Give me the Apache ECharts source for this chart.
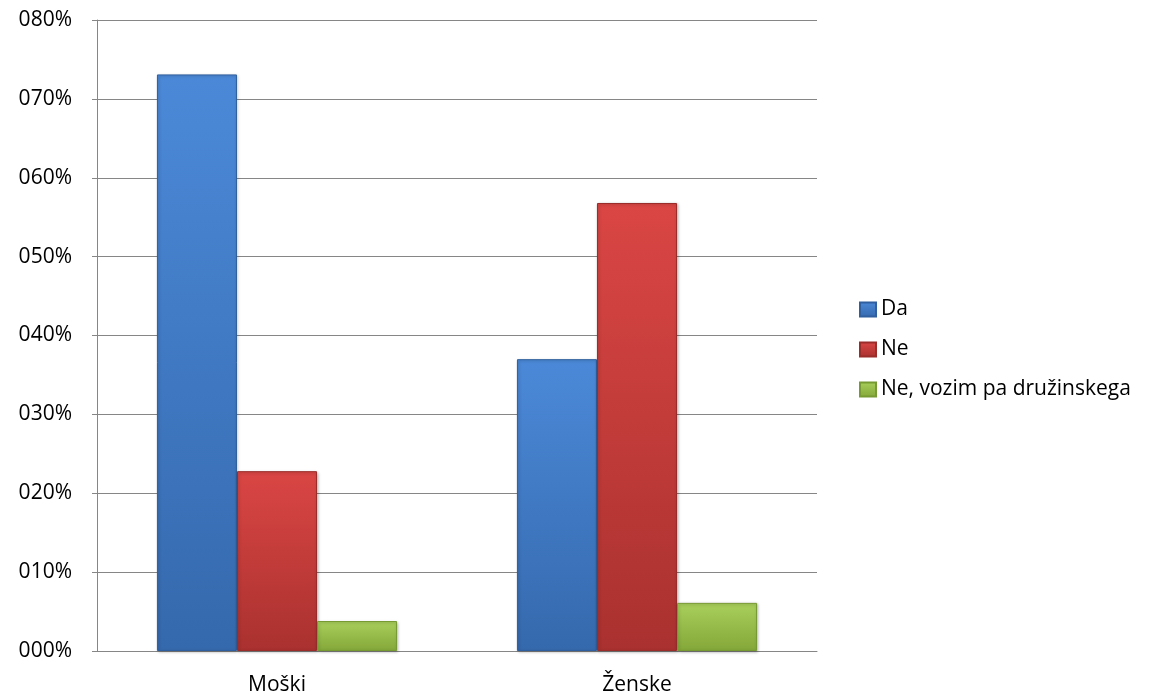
<!DOCTYPE html>
<html><head><meta charset="utf-8">
<script src="https://cdn.jsdelivr.net/npm/echarts@6/dist/echarts.min.js"></script>
<style>html,body{margin:0;padding:0;background:#fff}#c{width:1157px;height:700px}</style>
</head><body><div id="c"></div>
<script>
const categories = ['Moški', 'Ženske'];
const seriesNames = ['Da', 'Ne', 'Ne, vozim pa družinskega'];
const da = [73.1, 37.0];
const ne = [22.8, 56.8];
const druzinski = [3.8, 6.1];
const yTicks = [0, 10, 20, 30, 40, 50, 60, 70, 80];

const font = '"Open Sans", "Noto Sans", sans-serif';
function grad(top, bottom) {
  return new echarts.graphic.LinearGradient(0, 0, 0, 1, [
    { offset: 0, color: top }, { offset: 1, color: bottom }
  ]);
}
const styles = [
  { color: grad('#4b89d8', '#3569ad'), borderColor: '#2f5f9e' },
  { color: grad('#da4644', '#a9312f'), borderColor: '#9a2c2a' },
  { color: grad('#a9cf5b', '#84a739'), borderColor: '#779a32' }
];
const dataSets = [da, ne, druzinski];

const chart = echarts.init(document.getElementById('c'), null, { renderer: 'canvas' });
chart.setOption({
  animation: false,
  textStyle: { fontFamily: font },
  grid: { left: 97, right: 340, top: 20, bottom: 49, containLabel: false },
  legend: {
    orient: 'vertical', left: 854, top: 294, itemGap: 19,
    itemWidth: 16, itemHeight: 14, icon: 'rect',
    textStyle: { fontSize: 21, color: '#000', fontFamily: font },
    data: seriesNames
  },
  xAxis: {
    type: 'category', data: categories,
    axisLine: { show: true, lineStyle: { color: '#868686', width: 1 } },
    axisTick: { show: false },
    axisLabel: { fontSize: 21, color: '#000', margin: 24, fontFamily: font }
  },
  yAxis: {
    type: 'value', min: 0, max: 80, interval: 10,
    axisLine: { show: true, lineStyle: { color: '#868686', width: 1 } },
    axisTick: { show: true, length: 5, lineStyle: { color: '#868686' } },
    splitLine: { show: true, lineStyle: { color: '#868686', width: 1 } },
    axisLabel: {
      fontSize: 21, color: '#000', margin: 25, fontFamily: font,
      formatter: v => String(v).padStart(3, '0') + '%'
    }
  },
  series: seriesNames.map((n, i) => ({
    name: n, type: 'bar', data: dataSets[i],
    barGap: '0%', barCategoryGap: '33.3%',
    itemStyle: { color: styles[i].color, borderColor: styles[i].borderColor, borderWidth: 1,
      shadowColor: 'rgba(0,0,0,0.25)', shadowBlur: 3, shadowOffsetX: 1, shadowOffsetY: 1 }
  }))
});
</script></body></html>
